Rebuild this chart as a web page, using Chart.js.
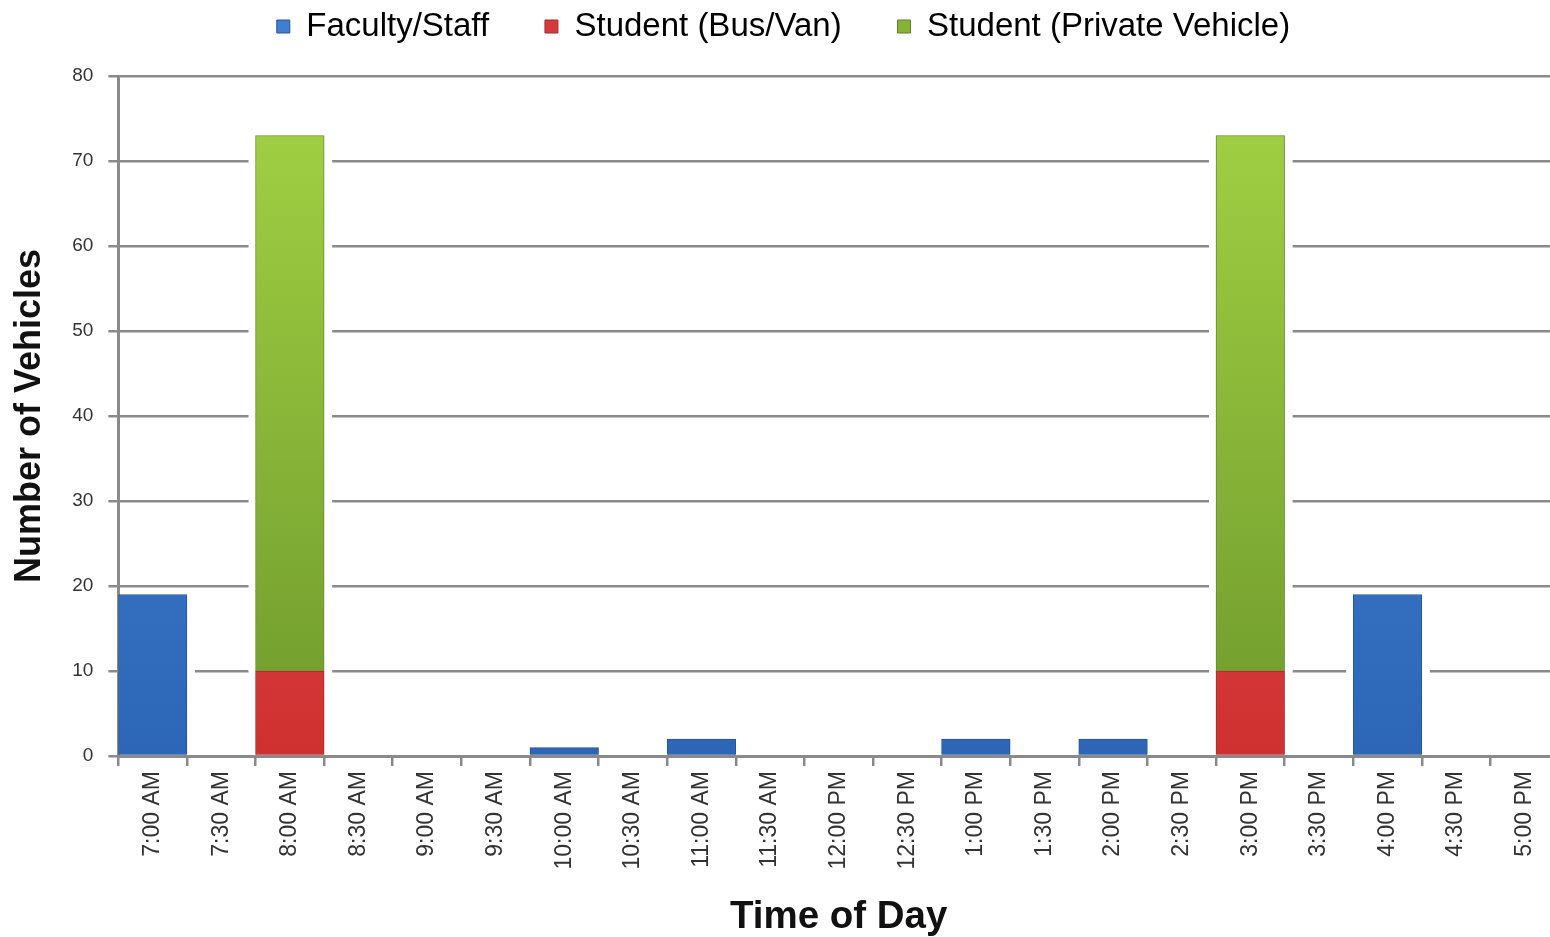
<!DOCTYPE html>
<html>
<head>
<meta charset="utf-8">
<script src="https://cdn.jsdelivr.net/npm/chart.js@4.4.1/dist/chart.umd.min.js"></script>
<style>
  html, body { margin: 0; padding: 0; background: #fff; overflow: hidden; }
  #wrap { width: 1565px; height: 937px; }
</style>
</head>
<body>
<div id="wrap"><canvas id="tripChart" width="1565" height="937"></canvas></div>
<script>
// time slots along the x axis
const timeSlots = ['7:00 AM','7:30 AM','8:00 AM','8:30 AM','9:00 AM','9:30 AM','10:00 AM','10:30 AM',
  '11:00 AM','11:30 AM','12:00 PM','12:30 PM','1:00 PM','1:30 PM','2:00 PM','2:30 PM',
  '3:00 PM','3:30 PM','4:00 PM','4:30 PM','5:00 PM'];

// vehicles per slot
const facultyStaff   = [19,0,0,0,0,0,1,0,2,0,0,0,2,0,2,0,0,0,19,0,0];
const studentBusVan  = [0,0,10,0,0,0,0,0,0,0,0,0,0,0,0,0,10,0,0,0,0];
const studentPrivate = [0,0,63,0,0,0,0,0,0,0,0,0,0,0,0,0,63,0,0,0,0];

const seriesNames = ['Faculty/Staff', 'Student (Bus/Van)', 'Student (Private Vehicle)'];
const yTicks = [0,10,20,30,40,50,60,70,80];

const FONT = '"Liberation Sans", Arial, sans-serif';

function vGrad(chart, top, bottom) {
    const area = chart.chartArea;
    if (!area) return top;
    const g = chart.ctx.createLinearGradient(0, area.top, 0, area.bottom);
    g.addColorStop(0, top);
    g.addColorStop(1, bottom);
    return g;
}

// white halo around bars so gridlines stop short of them
const barHalo = {
    id: 'barHalo',
    beforeDatasetsDraw(chart) {
        const ctx = chart.ctx;
        const area = chart.chartArea;
        ctx.save();
        ctx.beginPath();
        ctx.rect(area.left + 2, area.top, area.right - area.left, area.bottom - area.top - 2);
        ctx.clip();
        ctx.fillStyle = '#ffffff';
        chart.data.datasets.forEach((ds, i) => {
            const meta = chart.getDatasetMeta(i);
            meta.data.forEach((bar, j) => {
                if (!ds.data[j]) return;
                const p = bar.getProps(['x','y','base','width'], true);
                ctx.fillRect(p.x - p.width / 2 - 7, p.y - 6, p.width + 15, p.base - p.y + 6);
            });
        });
        ctx.restore();
    }
};

// extra room under the legend
const legendGap = {
    id: 'legendGap',
    beforeInit(chart) {
        const fit = chart.legend.fit;
        chart.legend.fit = function () {
            fit.bind(chart.legend)();
            this.height += 23;
        };
    }
};

new Chart(document.getElementById('tripChart'), {
    type: 'bar',
    data: {
        labels: timeSlots,
        datasets: [
            {
                label: seriesNames[0],
                data: facultyStaff,
                backgroundColor: ctx => vGrad(ctx.chart, '#4587dc', '#2d66b6'),
                borderColor: '#28548f',
                borderWidth: 1
            },
            {
                label: seriesNames[1],
                data: studentBusVan,
                backgroundColor: ctx => vGrad(ctx.chart, '#ea5452', '#cf3131'),
                borderColor: '#a52a2a',
                borderWidth: 1
            },
            {
                label: seriesNames[2],
                data: studentPrivate,
                backgroundColor: ctx => vGrad(ctx.chart, '#a4d344', '#6e9a2c'),
                borderColor: '#66892a',
                borderWidth: 1
            }
        ]
    },
    options: {
        responsive: false,
        animation: false,
        layout: { padding: { top: 0, right: 6, left: 8, bottom: 0 } },
        datasets: { bar: { barPercentage: 1, categoryPercentage: 1 } },
        plugins: {
            tooltip: { enabled: false },
            legend: {
                position: 'top',
                labels: {
                    font: { family: FONT, size: 33 },
                    color: '#1a1a1a',
                    boxWidth: 13,
                    boxHeight: 13,
                    padding: 10,
                    generateLabels(chart) {
                        const cols = ['#3f7fd0', '#d63a3a', '#86b236'];
                        const brd = ['#28548f', '#a52a2a', '#5e7f22'];
                        return chart.data.datasets.map((ds, i) => ({
                            // trailing spaces widen the gap between entries
                            text: i < 2 ? ds.label + '     ' : ds.label,
                            fillStyle: cols[i],
                            strokeStyle: brd[i],
                            lineWidth: 1,
                            datasetIndex: i,
                            hidden: false
                        }));
                    }
                }
            }
        },
        scales: {
            x: {
                stacked: true,
                offset: true,
                grid: {
                    offset: true,
                    drawOnChartArea: false,
                    color: '#8a8a8a',
                    lineWidth: 2.5,
                    tickLength: 10
                },
                border: { color: '#8a8a8a', width: 3 },
                ticks: {
                    autoSkip: false,
                    minRotation: 90,
                    maxRotation: 90,
                    padding: 5,
                    color: '#333',
                    font: { family: FONT, size: 23 }
                },
                title: {
                    display: true,
                    text: 'Time of Day',
                    color: '#111',
                    font: { family: FONT, size: 38.5, weight: 'bold', lineHeight: 1.0 },
                    padding: { top: 24, bottom: 0 }
                }
            },
            y: {
                stacked: true,
                min: 0,
                max: 80,
                afterBuildTicks(axis) { axis.ticks = yTicks.map(v => ({ value: v })); },
                grid: {
                    color: '#8a8a8a',
                    lineWidth: 2.5,
                    tickLength: 10
                },
                border: { color: '#8a8a8a', width: 3 },
                ticks: {
                    padding: 15,
                    color: '#333',
                    font: { family: FONT, size: 19 }
                },
                title: {
                    display: true,
                    text: 'Number of Vehicles',
                    color: '#111',
                    font: { family: FONT, size: 36, weight: 'bold' },
                    padding: { top: 0, bottom: 6 }
                }
            }
        }
    },
    plugins: [barHalo, legendGap]
});
</script>
</body>
</html>
